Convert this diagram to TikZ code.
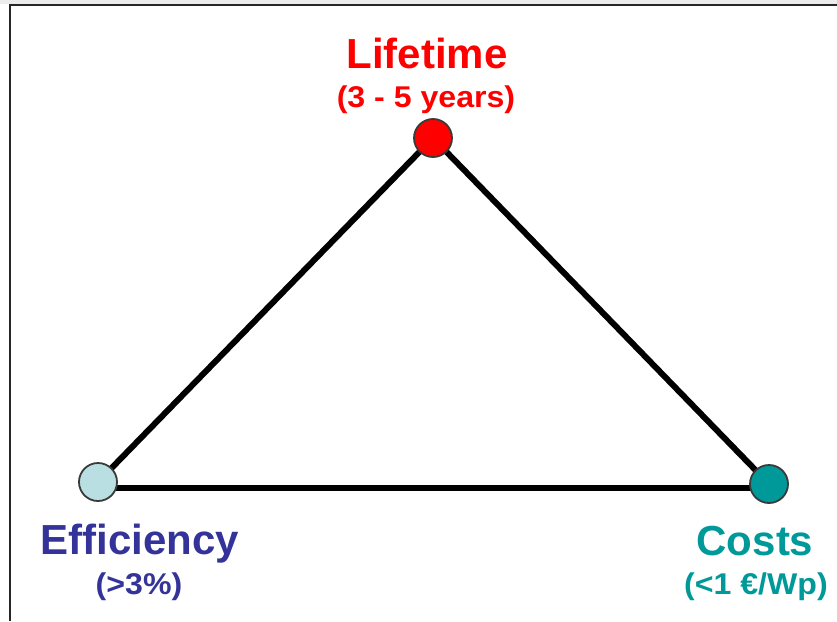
\documentclass[tikz,border=0pt]{standalone}
\usepackage{fontspec}
\setmainfont{Liberation Sans}
\definecolor{lifered}{HTML}{FF0000}
\definecolor{effblue}{HTML}{333399}
\definecolor{costteal}{HTML}{009999}
\definecolor{efffill}{HTML}{B9DFE3}
\definecolor{stripgray}{HTML}{ECECEC}
\definecolor{ringgray}{HTML}{3A3A3A}
\pgfdeclarelayer{bg}
\pgfsetlayers{bg,main}
\begin{document}
\begin{tikzpicture}[x=1pt,y=-1pt,
  vertex/.style={circle,draw=ringgray,line width=1.8pt,minimum size=38pt,inner sep=0pt},
  edge/.style={line width=6pt,black},
  title/.style={anchor=base,font=\bfseries\fontsize{42}{48}\selectfont},
  sub/.style={anchor=base,xscale=1.07,font=\bfseries\fontsize{30}{34}\selectfont}]
\useasboundingbox (0,0) rectangle (837,621);
\begin{pgfonlayer}{bg}
\fill[white] (0,0) rectangle (837,621);
\fill[stripgray] (0,0) rectangle (837,4);
\draw[line width=2pt,black!85] (10,621) -- (10,5) -- (837,5);
\end{pgfonlayer}
\node[vertex,fill=lifered] (l) at (433,138) {};
\node[vertex,fill=efffill] (e) at (98,482) {};
\node[vertex,fill=costteal] (c) at (769,484) {};
\begin{pgfonlayer}{bg}
\draw[edge] (e.center) -- (l.center) -- (c.center);
\draw[edge] ([yshift=-6pt]e.center) -- ([yshift=-4pt]c.center);
\end{pgfonlayer}
% labels
\node[title,text=lifered] (lt) at (427,68) {Lifetime};
\node[sub,text=lifered] (ls) at (426,107) {(3 - 5 years)};
\node[title,text=effblue] (et) at (140,554) {Efficiency};
\node[sub,text=effblue] (es) at (139,594) {(>3\%)};
\node[title,text=costteal] (ct) at (755,555) {Costs};
\node[sub,text=costteal] (cs) at (756,594) {(<1 €/Wp)};
\end{tikzpicture}
\end{document}
